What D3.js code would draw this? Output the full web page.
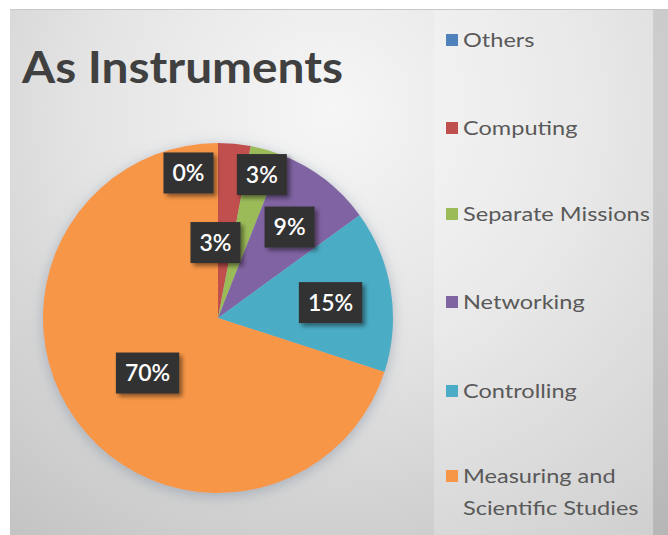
<!DOCTYPE html>
<html>
<head>
<meta charset="utf-8">
<script src="https://cdn.jsdelivr.net/npm/d3@7/dist/d3.min.js"></script>
<style>
  html, body { margin: 0; padding: 0; background: #ffffff; }
  svg { display: block; }
</style>
</head>
<body>
<svg id="chart" width="668" height="535"></svg>
<script>
// Share of uses "as instruments", in percent
const categories = ["Others", "Computing", "Separate Missions", "Networking", "Controlling", "Measuring and Scientific Studies"];
const shares = [0, 3, 3, 9, 15, 70];
const sliceColors = ["#4F81BD", "#C0504D", "#9BBB59", "#8064A2", "#4BACC6", "#F79646"];
const legendLines = [["Others"], ["Computing"], ["Separate Missions"], ["Networking"], ["Controlling"], ["Measuring and", "Scientific Studies"]];
const title = "As Instruments";

// Data-label placement: angle (deg, clockwise from 12 o'clock) and distance from the pie centre
const labelAngle = [-11.5, -1.9, 17.0, 38.2, 82.2, 232.0];
const labelDist = [148, 75.5, 150, 115.7, 113.6, 89.4];

const W = 668, H = 535;
const FONT = "Lato, 'Open Sans', sans-serif";
const svg = d3.select("#chart");
const defs = svg.append("defs");

// Background: soft grey radial gradient
const bg = defs.append("radialGradient").attr("id", "bgGrad")
  .attr("gradientUnits", "userSpaceOnUse").attr("cx", 330).attr("cy", 110).attr("r", 540);
bg.append("stop").attr("offset", 0).attr("stop-color", "#f6f6f6");
bg.append("stop").attr("offset", 0.45).attr("stop-color", "#e4e4e4");
bg.append("stop").attr("offset", 1).attr("stop-color", "#c2c2c2");

const shadow = defs.append("filter").attr("id", "pieShadow")
  .attr("x", "-20%").attr("y", "-20%").attr("width", "140%").attr("height", "140%");
shadow.append("feGaussianBlur").attr("in", "SourceAlpha").attr("stdDeviation", 7).attr("result", "b");
shadow.append("feOffset").attr("in", "b").attr("dx", 0).attr("dy", 3).attr("result", "o");
shadow.append("feFlood").attr("flood-color", "#7f8fa0").attr("flood-opacity", 0.55);
shadow.append("feComposite").attr("in2", "o").attr("operator", "in").attr("result", "s");
const m1 = shadow.append("feMerge");
m1.append("feMergeNode").attr("in", "s");
m1.append("feMergeNode").attr("in", "SourceGraphic");

const boxShadow = defs.append("filter").attr("id", "boxShadow")
  .attr("x", "-30%").attr("y", "-30%").attr("width", "170%").attr("height", "170%");
boxShadow.append("feGaussianBlur").attr("in", "SourceAlpha").attr("stdDeviation", 2).attr("result", "b");
boxShadow.append("feOffset").attr("in", "b").attr("dx", 3).attr("dy", 3).attr("result", "o");
boxShadow.append("feFlood").attr("flood-color", "#000").attr("flood-opacity", 0.45);
boxShadow.append("feComposite").attr("in2", "o").attr("operator", "in").attr("result", "s");
const m2 = boxShadow.append("feMerge");
m2.append("feMergeNode").attr("in", "s");
m2.append("feMergeNode").attr("in", "SourceGraphic");

// Chart area
svg.append("rect").attr("x", 10).attr("y", 9).attr("width", W - 10).attr("height", H - 9)
  .attr("fill", "url(#bgGrad)");
svg.append("line").attr("x1", 10).attr("x2", W).attr("y1", 9.5).attr("y2", 9.5)
  .attr("stroke", "#c8c8c8").attr("stroke-width", 1);
// lighter legend panel and darker right-hand strip
svg.append("rect").attr("x", 434).attr("y", 10).attr("width", 219).attr("height", H - 10)
  .attr("fill", "#ffffff").attr("opacity", 0.22);
svg.append("rect").attr("x", 653).attr("y", 10).attr("width", W - 653).attr("height", H - 10)
  .attr("fill", "#000000").attr("opacity", 0.06);

// Title
svg.append("text").attr("x", 22).attr("y", 83)
  .attr("font-family", FONT).attr("font-weight", 700)
  .attr("font-size", 44).attr("fill", "#404040")
  .attr("textLength", 321).attr("lengthAdjust", "spacingAndGlyphs")
  .text(title);

// Pie
const cx = 218, cy = 318, R = 175;
const pie = d3.pie().sort(null).value(d => d).startAngle(0).endAngle(2 * Math.PI);
const arcs = pie(shares);
const arc = d3.arc().innerRadius(0).outerRadius(R);
const gPie = svg.append("g").attr("transform", `translate(${cx},${cy})`);
gPie.append("g").attr("filter", "url(#pieShadow)")
  .selectAll("path").data(arcs).join("path")
  .attr("d", arc)
  .attr("fill", (d, i) => sliceColors[i]);

// Data labels: dark boxes with white percentages
const gLab = gPie.append("g");
arcs.forEach((d, i) => {
  const a = labelAngle[i] * Math.PI / 180;
  const x = labelDist[i] * Math.sin(a), y = -labelDist[i] * Math.cos(a);
  const g = gLab.append("g").attr("transform", `translate(${x},${y})`);
  const rect = g.append("rect").attr("fill", "#333333").attr("filter", "url(#boxShadow)");
  const t = g.append("text").attr("text-anchor", "middle").attr("dy", "0.36em")
    .attr("font-family", FONT).attr("font-weight", 600)
    .attr("font-size", 23).attr("fill", "#ffffff")
    .text(Math.round(shares[i]) + "%");
  const w = t.node().getComputedTextLength() + 18, h = 41;
  rect.attr("x", -w / 2).attr("y", -h / 2).attr("width", w).attr("height", h);
});

// Legend (Calibri-like text is wider than Lato, so the lines are stretched horizontally)
const legendY = [40, 128, 214, 302, 391, 476];
const legendX = 446, legendTextX = 463, legendTextWidest = 187;
const gLeg = svg.append("g");
const legendTexts = [];
categories.forEach((c, i) => {
  const g = gLeg.append("g").attr("transform", `translate(0,${legendY[i]})`);
  g.append("rect").attr("x", legendX).attr("y", -6).attr("width", 12).attr("height", 12)
    .attr("fill", sliceColors[i]);
  legendLines[i].forEach((line, j) => {
    legendTexts.push(g.append("text").attr("y", j * 32).attr("dy", "0.35em")
      .attr("font-family", FONT)
      .attr("font-size", 19).attr("fill", "#595959")
      .text(line));
  });
});
const natural = d3.max(legendTexts, t => t.node().getComputedTextLength());
const sx = legendTextWidest / natural;
legendTexts.forEach(t => t.attr("transform", `translate(${legendTextX},0) scale(${sx},1)`));
</script>
</body>
</html>
